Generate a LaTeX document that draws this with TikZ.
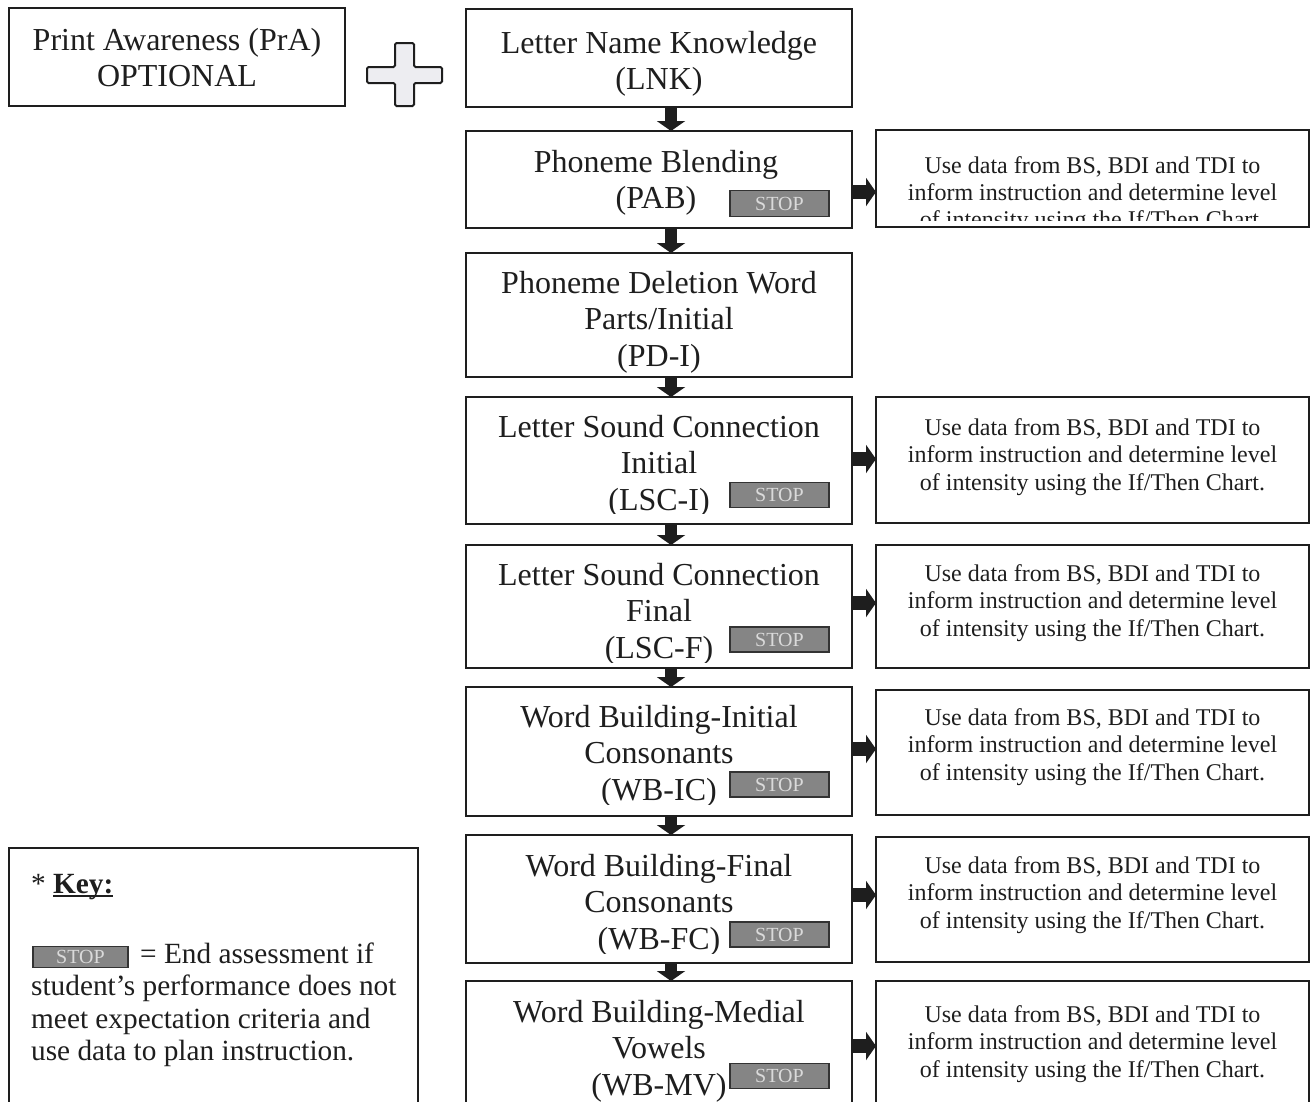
\documentclass[tikz,border=0pt]{standalone}
\usepackage{fontspec}
\setmainfont{Liberation Serif}
\usetikzlibrary{arrows.meta}
\definecolor{ink}{HTML}{1E1E1E}
\definecolor{stopfill}{HTML}{858585}
\definecolor{stoptext}{HTML}{DADADA}
\definecolor{plusfill}{HTML}{EDEDF1}

\begin{document}
\begin{tikzpicture}[x=1pt,y=-1pt,
  box/.style={draw=ink, line width=2pt, fill=white, inner sep=0pt, outer sep=0pt},
  mainbox/.style={box, minimum width=386pt},
  sidebox/.style={box, minimum width=433pt},
  % multi-line texts are placed by the baseline of their last line
  maintext/.style={text=ink, font=\fontsize{32}{36.8}\selectfont, align=center, anchor=base, inner sep=0pt},
  sidetext/.style={text=ink, font=\fontsize{24}{27.5}\selectfont, align=center, anchor=base, inner sep=0pt},
  keytext/.style={text=ink, font=\fontsize{29.3}{32.5}\selectfont, align=left, anchor=base west, inner sep=0pt},
  stopbadge/.style={draw=black!80, line width=1.5pt, fill=stopfill, text=stoptext,
    font=\fontsize{20}{20}\selectfont, minimum width=99pt, minimum height=25pt, inner sep=0pt},
  downarrow/.style={draw=ink, line width=12pt, -{Triangle[length=10pt,width=28pt]}},
  rightarrow/.style={draw=ink, line width=14pt, -{Triangle[length=10pt,width=28pt]}},
]
\useasboundingbox (0,0) rectangle (1312,1101);
\clip (0,0) rectangle (1312,1101);
\fill[white] (0,0) rectangle (1312,1101);

% optional first step and the plus sign
\node[box, minimum width=336pt, minimum height=98pt] (pra) at (177,57) {};
\node[maintext] (praT) at (177,86.8) {Print Awareness (PrA)\\OPTIONAL};
\draw[draw=ink, fill=plusfill, line width=2pt, rounded corners=1.5pt]
  (395,43) -- (414,43) -- (414,67) -- (442,67) -- (442,83) -- (414,83) -- (414,106)
  -- (395,106) -- (395,83) -- (367,83) -- (367,67) -- (395,67) -- cycle;

% main column of assessments
\node[mainbox, minimum height=98pt]  (lnk)  at (659,58)    {};
\node[mainbox, minimum height=97pt]  (pab)  at (659,179.5) {};
\node[mainbox, minimum height=124pt] (pdi)  at (659,315)   {};
\node[mainbox, minimum height=127pt] (lsci) at (659,460.5) {};
\node[mainbox, minimum height=123pt] (lscf) at (659,606.5) {};
\node[mainbox, minimum height=129pt] (wbic) at (659,751.5) {};
\node[mainbox, minimum height=128pt] (wbfc) at (659,899)   {};
\node[mainbox, minimum height=149pt] (wbmv) at (659,1055.5) {};

\node[maintext] (lnkT) at (659,89.8)  {Letter Name Knowledge\\(LNK)};
\node[maintext] (pabT) at (656,208.8) {Phoneme Blending\\(PAB)};
\node[maintext] (pdiT) at (659,366.6) {Phoneme Deletion Word\\Parts/Initial\\(PD-I)};
\begin{scope}
  \clip (466,397) rectangle (852,513);
  \node[maintext] (lsciT) at (659,510.6) {Letter Sound Connection\\Initial\\(LSC-I)};
\end{scope}
\begin{scope}
  \clip (466,545) rectangle (852,662);
  \node[maintext] (lscfT) at (659,658.6) {Letter Sound Connection\\Final\\(LSC-F)};
\end{scope}
\begin{scope}
  \clip (466,687) rectangle (852,804);
  \node[maintext] (wbicT) at (659,800.6) {Word Building-Initial\\Consonants\\(WB-IC)};
\end{scope}
\begin{scope}
  \clip (466,835) rectangle (852,953);
  \node[maintext] (wbfcT) at (659,949.6) {Word Building-Final\\Consonants\\(WB-FC)};
\end{scope}
\node[maintext] (wbmvT) at (659,1095.6) {Word Building-Medial\\Vowels\\(WB-MV)};

% stop markers
\node[stopbadge, minimum height=26pt] (pabS) at (779.5,203.5) {STOP};
\node[stopbadge] (lsciS) at (779.5,495)   {STOP};
\node[stopbadge] (lscfS) at (779.5,639.5) {STOP};
\node[stopbadge] (wbicS) at (779.5,784.5) {STOP};
\node[stopbadge] (wbfcS) at (779.5,934.5) {STOP};
\node[stopbadge] (wbmvS) at (779.5,1076)  {STOP};

% instruction boxes on the right
\node[sidebox, minimum height=97pt]  (r1) at (1092.5,178.5) {};
\node[sidebox, minimum height=126pt] (r2) at (1092.5,460)   {};
\node[sidebox, minimum height=123pt] (r3) at (1092.5,606.5) {};
\node[sidebox, minimum height=125pt] (r4) at (1092.5,752.5) {};
\node[sidebox, minimum height=125pt] (r5) at (1092.5,899.5) {};
\node[sidebox, minimum height=149pt] (r6) at (1092.5,1055.5) {};

\begin{scope}
  \clip (876,130) rectangle (1309,220);
  \node[sidetext, font=\fontsize{24}{27}\selectfont] (r1T) at (1092.5,227)
    {Use data from BS, BDI and TDI to\\inform instruction and determine level\\of intensity using the If/Then Chart.};
\end{scope}
\node[sidetext] (r2T) at (1092.5,490)  {Use data from BS, BDI and TDI to\\inform instruction and determine level\\of intensity using the If/Then Chart.};
\node[sidetext] (r3T) at (1092.5,636)  {Use data from BS, BDI and TDI to\\inform instruction and determine level\\of intensity using the If/Then Chart.};
\node[sidetext] (r4T) at (1092.5,780)  {Use data from BS, BDI and TDI to\\inform instruction and determine level\\of intensity using the If/Then Chart.};
\node[sidetext] (r5T) at (1092.5,928)  {Use data from BS, BDI and TDI to\\inform instruction and determine level\\of intensity using the If/Then Chart.};
\node[sidetext] (r6T) at (1092.5,1077) {Use data from BS, BDI and TDI to\\inform instruction and determine level\\of intensity using the If/Then Chart.};

% key
\node[box, minimum width=409pt, minimum height=282pt] (key) at (213.5,989) {};
\node[keytext] (keyT) at (31,893)
  {* {\bfseries\setbox0\hbox{Key:}\rlap{\rule[-4pt]{\wd0}{2.2pt}}\box0}};
\node[stopbadge, minimum width=95pt, minimum height=21pt] (keyS) at (80.5,957) {STOP};
\node[keytext] (keyD) at (31,1060.5)
  {\hspace*{109pt}= End assessment if\\student's performance does not\\meet expectation criteria and\\use data to plan instruction.};

% flow arrows down the main column
\draw[downarrow] ([xshift=12pt]lnk.south)  -- ([xshift=12pt]pab.north);
\draw[downarrow] ([xshift=12pt]pab.south)  -- ([xshift=12pt]pdi.north);
\draw[downarrow] ([xshift=12pt]pdi.south)  -- ([xshift=12pt]lsci.north);
\draw[downarrow] ([xshift=12pt]lsci.south) -- ([xshift=12pt]lscf.north);
\draw[downarrow] ([xshift=12pt]lscf.south) -- ([xshift=12pt]wbic.north);
\draw[downarrow] ([xshift=12pt]wbic.south) -- ([xshift=12pt]wbfc.north);
\draw[downarrow] ([xshift=12pt]wbfc.south) -- ([xshift=12pt]wbmv.north);

% arrows to the instruction boxes
\draw[rightarrow] ([yshift=-12.5pt]pab.east) -- ([yshift=-13.5pt]r1.west);
\draw[rightarrow] ([yshift=1.5pt]lsci.east)  -- ([yshift=1pt]r2.west);
\draw[rightarrow] ([yshift=3.5pt]lscf.east)  -- ([yshift=3.5pt]r3.west);
\draw[rightarrow] ([yshift=2.5pt]wbic.east)  -- ([yshift=3.5pt]r4.west);
\draw[rightarrow] ([yshift=4pt]wbfc.east)    -- ([yshift=4.5pt]r5.west);
\draw[rightarrow] ([yshift=9.5pt]wbmv.east)  -- ([yshift=9.5pt]r6.west);
\end{tikzpicture}
\end{document}
